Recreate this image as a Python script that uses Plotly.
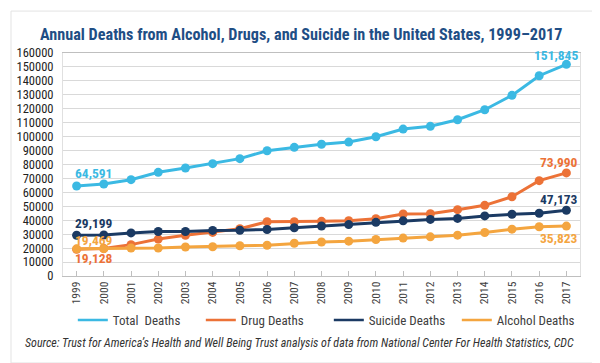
import plotly.graph_objects as go

years = list(range(1999, 2018))
total_deaths = [64591, 66000, 69100, 74400, 77500, 80600, 84200, 89900, 92300, 94500,
                96100, 99900, 105400, 107400, 112100, 119300, 129600, 143700, 151845]
drug_deaths = [19128, 19700, 22500, 26500, 29200, 31300, 33900, 38900, 38900, 39200,
               39700, 41100, 44500, 44700, 47600, 50700, 56900, 68400, 73990]
suicide_deaths = [29199, 29400, 30900, 31900, 31900, 32700, 32800, 33400, 34600, 35900,
                  36900, 38500, 39600, 40600, 41300, 43100, 44300, 45000, 47173]
alcohol_deaths = [19469, 19600, 20100, 20100, 20800, 21000, 21700, 22100, 23500, 24400,
                  25000, 26200, 27200, 28100, 29300, 31200, 33600, 35300, 35823]
y_ticks = list(range(0, 160001, 10000))

series = [
    ("Total  Deaths", total_deaths, "#3BB9E3"),
    ("Drug Deaths", drug_deaths, "#EC7237"),
    ("Suicide Deaths", suicide_deaths, "#1B3A63"),
    ("Alcohol Deaths", alcohol_deaths, "#F4A53F"),
]

FONT = "Roboto Condensed"

fig = go.Figure()
for name, vals, col in series:
    fig.add_trace(go.Scatter(
        x=years, y=vals, name=name, mode="lines+markers", showlegend=False,
        line=dict(color=col, width=3), marker=dict(color=col, size=9),
    ))
# legend entries (line only, as in the reference)
for name, vals, col in series:
    fig.add_trace(go.Scatter(
        x=[None], y=[None], name=name, mode="lines",
        line=dict(color=col, width=2.5), hoverinfo="skip",
    ))

# data labels: (series index, point index, yshift, side)
labels = [
    (0, 0, 13, "L"), (2, 0, 12, "L"), (3, 0, 9, "L"), (1, 0, -9, "L"),
    (0, -1, 9, "R"), (1, -1, 11, "R"), (2, -1, 11, "R"), (3, -1, -12, "R"),
]
for si, pi, ys, side in labels:
    name, vals, col = series[si]
    v = vals[pi]
    fig.add_annotation(
        x=years[pi], y=v, text=f"<b>{v:,}</b>", showarrow=False,
        xanchor="left" if side == "L" else "right",
        xshift=-4 if side == "L" else 14, yshift=ys,
        font=dict(family=FONT, size=13.5, color=col),
    )

fig.add_annotation(
    x=0.5, y=1.0, xref="paper", yref="paper", yanchor="middle",
    yshift=19, xshift=-21,
    text="<b>Annual Deaths from Alcohol, Drugs, and Suicide in the United States, 1999–2017</b>",
    showarrow=False, font=dict(family=FONT, size=16.2, color="#1F4E85"),
)
fig.add_annotation(
    x=0.5, y=0, xref="paper", yref="paper", yanchor="middle",
    yshift=-67, xshift=-22,
    text="<i>Source: Trust for America’s Health and Well Being Trust analysis of data from National Center For Health Statistics, CDC</i>",
    showarrow=False, font=dict(family=FONT, size=12, color="#333333"),
)

# card with shadow
fig.add_shape(type="rect", xref="paper", yref="paper",
              x0=-0.094, x1=1.043, y0=-0.403, y1=1.18,
              fillcolor="#A0A0A0", line=dict(width=0), layer="below")
fig.add_shape(type="rect", xref="paper", yref="paper",
              x0=-0.1006, x1=1.036, y0=-0.39, y1=1.188,
              fillcolor="white", line=dict(color="#E3E3E3", width=1), layer="below")

fig.update_layout(
    width=600, height=363,
    margin=dict(l=55, r=28, t=45, b=95, autoexpand=False),
    paper_bgcolor="white", plot_bgcolor="white",
    showlegend=True,
    legend=dict(orientation="h", x=0.019, y=-0.197, xanchor="left", yanchor="middle",
                entrywidth=83, entrywidthmode="pixels",
                font=dict(family=FONT, size=13, color="#404040"),
                bgcolor="rgba(0,0,0,0)"),
    font=dict(family=FONT),
)
fig.update_xaxes(
    range=[1998.5, 2017.5], tickvals=years, tickangle=-90, showgrid=False,
    showline=True, linecolor="#BFBFBF", linewidth=1, mirror=True, zeroline=False,
    ticks="inside", ticklen=5, tickcolor="#BFBFBF",
    tickfont=dict(family=FONT, size=11.5, color="#404040"),
)
fig.update_yaxes(
    range=[0, 160000], tickvals=y_ticks, tickformat="d",
    showgrid=True, gridcolor="#D9D9D9", gridwidth=1,
    showline=True, linecolor="#E0E0E0", mirror=True, zeroline=False,
    ticks="", ticklabelstandoff=6,
    tickfont=dict(family=FONT, size=12.5, color="#222222"),
)

fig.write_html("out.html")
